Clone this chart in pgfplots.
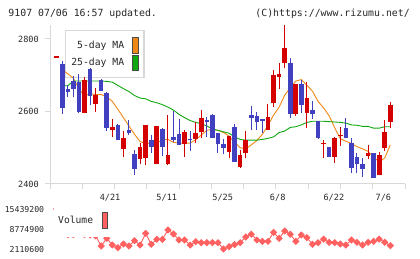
\documentclass[border=0pt]{standalone}
\usepackage{pgfplots}
\pgfplotsset{compat=1.18}
\usepackage{pgfplotstable}
\usepackage{fontspec}
\setmainfont{DejaVu Sans Mono}

\definecolor{candleup}{RGB}{212,0,0}
\definecolor{candledown}{RGB}{64,64,192}
\definecolor{maorange}{RGB}{240,136,24}
\definecolor{magreen}{RGB}{16,168,16}
\definecolor{volred}{RGB}{255,96,96}
\definecolor{axisgray}{RGB}{216,216,216}
\definecolor{txt}{RGB}{40,40,40}

% daily candles: index, open, high, low, close
\pgfplotstableread{
i  o    h    l    c
0  2748 2752 2748 2752
5  2596 2694 2595 2687
7  2622 2665 2598 2646
10 2549 2579 2530 2557
12 2497 2545 2475 2528
15 2470 2513 2454 2503
16 2471 2563 2452 2563
18 2456 2561 2455 2561
20 2454 2591 2452 2480
23 2510 2549 2475 2544
25 2524 2572 2514 2541
26 2544 2605 2528 2582
31 2488 2533 2472 2533
33 2448 2494 2445 2480
34 2486 2545 2471 2520
38 2549 2621 2549 2586
39 2624 2715 2613 2701
40 2696 2735 2662 2704
41 2735 2839 2719 2776
43 2594 2676 2587 2676
45 2597 2682 2554 2638
48 2509 2520 2471 2513
50 2475 2529 2459 2526
51 2532 2557 2506 2536
56 2478 2508 2470 2486
58 2424 2488 2424 2480
59 2500 2577 2492 2544
60 2572 2625 2555 2618
}\upcandles

\pgfplotstableread{
i  o    h    l    c
1  2731 2740 2594 2611
2  2662 2672 2641 2655
3  2684 2699 2641 2661
4  2680 2703 2596 2598
6  2716 2720 2617 2644
8  2686 2689 2656 2657
9  2651 2655 2547 2555
11 2564 2565 2521 2522
13 2549 2577 2535 2540
14 2483 2494 2425 2442
17 2520 2535 2485 2501
19 2552 2555 2477 2501
21 2530 2600 2517 2520
22 2538 2578 2508 2508
24 2525 2546 2492 2520
27 2577 2586 2530 2572
28 2590 2593 2526 2528
29 2542 2542 2486 2509
30 2510 2524 2482 2500
32 2558 2565 2462 2462
35 2590 2615 2550 2583
36 2588 2599 2549 2572
37 2579 2579 2540 2575
42 2735 2748 2582 2594
44 2676 2687 2597 2618
46 2605 2629 2579 2594
47 2574 2574 2524 2528
49 2503 2503 2475 2475
52 2555 2581 2526 2526
53 2513 2527 2431 2445
54 2475 2486 2430 2456
55 2455 2471 2420 2442
57 2486 2486 2417 2417
}\downcandles

% moving averages
\pgfplotstableread{
i  ma5  ma25
1  2716 2671
2  2704 2671
3  2692 2684
4  2662 2684
5  2643 2684
6  2649 2684
7  2647 2684
8  2647 2684
9  2640 2683
10 2628 2681
11 2606 2672
12 2583 2663
13 2560 2655
14 2537 2644
15 2517 2637
16 2512 2635
17 2512 2628
18 2513 2624
19 2522 2619
20 2523 2612
21 2515 2604
22 2513 2592
23 2512 2583
24 2513 2575
25 2522 2570
26 2535 2566
27 2548 2560
28 2551 2552
29 2548 2548
30 2542 2544
31 2532 2540
32 2515 2530
33 2500 2523
34 2497 2521
35 2508 2521
36 2520 2521
37 2537 2523
38 2562 2526
39 2590 2530
40 2612 2542
41 2645 2546
42 2665 2556
43 2684 2558
44 2688 2563
45 2672 2570
46 2656 2573
47 2628 2573
48 2610 2573
49 2588 2572
50 2555 2571
51 2525 2570
52 2518 2568
53 2512 2563
54 2503 2562
55 2497 2559
56 2490 2559
57 2474 2554
58 2461 2554
59 2472 2558
60 2508 2558
}\matable

% daily volume
\pgfplotstableread{
i  v
0  15439200
1  11000000
2  6900000
3  6900000
4  8500000
5  6900000
6  6800000
7  6500000
8  3110000
9  5670000
10 3440000
11 2550000
12 3780000
13 3110000
14 4890000
15 3440000
16 7330000
17 3670000
18 5330000
19 5330000
20 8440000
21 7110000
22 5110000
23 5110000
24 3440000
25 4550000
26 4220000
27 4220000
28 4220000
29 4220000
30 2110600
31 2890000
32 3600000
33 4220000
34 6100000
35 7050000
36 5110000
37 4650000
38 4650000
39 7660000
40 5670000
41 8110000
42 7050000
43 4650000
44 6780000
45 5900000
46 3670000
47 4220000
48 5400000
49 4330000
50 4220000
51 3780000
52 3440000
53 5110000
54 4330000
55 3440000
56 4330000
57 4650000
58 5400000
59 4330000
60 3220000
}\voltable

\newcommand\tickfont{\fontsize{8.6}{10}\selectfont}
\newcommand\legfont{\fontsize{9.8}{11}\selectfont}

\pgfplotsset{
  swatch/.style={legend image code/.code={%
    \draw[fill=#1, draw=black!70, line width=0.8bp] (0bp,-7.6bp) rectangle (5.6bp,7.6bp);}},
  wicks/.style={draw=none, forget plot,
    error bars/.cd, y dir=plus, y explicit, error mark=none,
    error bar style={draw=#1, line width=1bp}},
  bodies/.style={draw=none, forget plot,
    error bars/.cd, y dir=plus, y explicit, error mark=none,
    error bar style={draw=#1, line width=4.6bp}},
}

\begin{document}
\begin{tikzpicture}[x=1bp, y=1bp]
\path[use as bounding box] (0,0) rectangle (420,259);
\fill[white] (0,0) rectangle (420,259);

\node[anchor=base west, inner sep=0pt, text=txt, font=\fontsize{9.9}{11}\selectfont] at (8.3,242.7) {9107 07/06 16:57 updated.};
\node[anchor=base east, inner sep=0pt, text=txt, font=\fontsize{9.9}{11}\selectfont] at (410,242.7) {(C)https://www.rizumu.net/};

% legend layer underneath the candles
\begin{axis}[
  at={(50bp,75bp)}, anchor=south west,
  scale only axis, width=355bp, height=159bp,
  xmin=-1.205, xmax=62.64, ymin=2400, ymax=2838.6,
  hide axis,
  legend plot pos=right,
  legend cell align=right,
  legend style={at={(0.04225,0.9686)}, anchor=north west,
    draw=axisgray, line width=1.2bp, fill=white,
    inner xsep=5.7bp, inner ysep=6.9bp,
    row sep=1.3bp, column sep=7.7bp,
    nodes={inner sep=0pt, text=txt, font=\legfont}},
]
\addlegendimage{swatch=maorange}
\addlegendentry{5-day MA}
\addlegendimage{swatch=magreen}
\addlegendentry{25-day MA}
\end{axis}

% price panel
\begin{axis}[
  at={(50bp,75bp)}, anchor=south west,
  scale only axis, width=355bp, height=159bp,
  xmin=-1.205, xmax=62.64, ymin=2400, ymax=2838.6,
  axis x line=bottom, axis y line=left,
  axis line style={draw=axisgray, line width=1bp, -},
  xtick={-1.205,4.599,10.40,16.20,22.01,27.81,33.62,39.42,45.22,51.03,56.83,62.64},
  xticklabels={},
  x tick style={draw=axisgray, line width=1bp},
  extra x ticks={9.6,19.8,29.85,39.75,49.85,58.75},
  extra x tick labels={4/21,5/11,5/25,6/8,6/22,7/6},
  extra x tick style={major tick length=0pt,
    xticklabel style={anchor=base, inner sep=0pt, yshift=-16.8bp, text=txt, font=\tickfont}},
  ytick={2400,2600,2800},
  yticklabels={2400,2600,2800},
  y tick style={draw=axisgray, line width=1bp},
  yticklabel style={anchor=base east, inner sep=0pt, xshift=-6bp, yshift=-3.1bp, text=txt, font=\tickfont},
  major tick length=5bp, tick align=outside,
]
\addplot[maorange, line width=0.9bp] table[x=i, y=ma5] {\matable};
\addplot[magreen, line width=0.9bp] table[x=i, y=ma25] {\matable};

\addplot[wicks=candleup] table[x=i, y=l, y error expr=\thisrow{h}-\thisrow{l}] {\upcandles};
\addplot[bodies=candleup] table[x=i, y=o, y error expr=\thisrow{c}-\thisrow{o}] {\upcandles};
\addplot[wicks=candledown] table[x=i, y=l, y error expr=\thisrow{h}-\thisrow{l}] {\downcandles};
\addplot[bodies=candledown] table[x=i, y=c, y error expr=\thisrow{o}-\thisrow{c}] {\downcandles};
\end{axis}

% volume panel
\begin{axis}[
  at={(50bp,10bp)}, anchor=south west,
  scale only axis, width=355bp, height=40bp,
  xmin=-1.205, xmax=62.64, ymin=2110600, ymax=15439200,
  axis line style={draw=none},
  xtick=\empty,
  ytick={2110600,8774900,15439200},
  yticklabels={2110600,8774900,15439200},
  scaled y ticks=false,
  major tick length=0pt,
  yticklabel style={anchor=base east, inner sep=0pt, xshift=-5.7bp, yshift=-3bp, text=txt, font=\fontsize{8.2}{10}\selectfont},
  legend plot pos=right,
  legend style={at={(0.01127,0.2875)}, anchor=south west,
    draw=none, fill=white,
    inner xsep=4bp, inner ysep=9bp, column sep=8.7bp,
    nodes={inner sep=0pt, text=txt, font=\fontsize{9.7}{11}\selectfont}},
]
\addplot[volred, line width=0.9bp, mark=square*, mark size=2.1bp,
  mark options={rotate=45, fill=volred, draw=volred}, forget plot]
  table[x=i, y=v] {\voltable};
\addlegendimage{swatch=volred}
\addlegendentry{Volume}
\end{axis}
\end{tikzpicture}
\end{document}
